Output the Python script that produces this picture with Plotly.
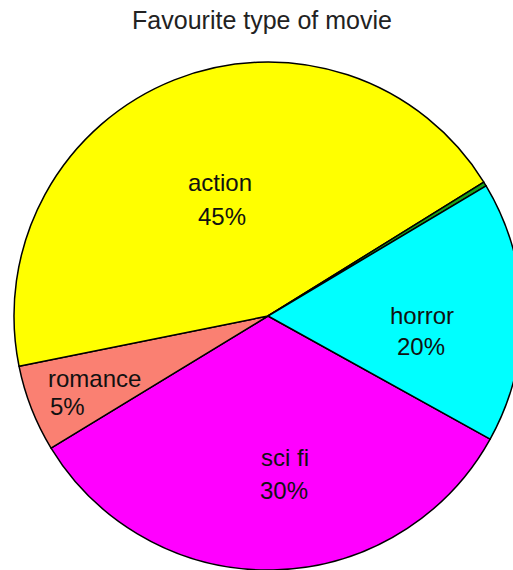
import plotly.graph_objects as go

# ---- data ----
categories = ["sci fi", "romance", "action", "other", "horror"]
counts = [6, 1, 8, 0.05, 3]
percent_labels = ["30%", "5%", "45%", "", "20%"]
slice_colors = ["#FF00FF", "#FA8072", "#FFFF00", "#1AA31A", "#00FFFF"]
title_text = "Favourite type of movie"

# ---- layout constants (pixels) ----
W, H = 522, 570
ML, MT = 14, 62
PW = W - ML          # plot area width
PH = H - MT          # plot area height

# label placement: (x_px name, baseline name, x_px pct, baseline pct, anchor)
label_pos = {
    "action": (220, 191, 222, 225, "center"),
    "horror": (422, 324, 421, 355, "center"),
    "sci fi": (285, 466, 284, 499, "center"),
    "romance": (46, 387, 48, 415, "left"),
}


def px_to_paper(x, y):
    return (x - ML) / PW, (H - y) / PH


fig = go.Figure(
    go.Pie(
        labels=categories,
        values=counts,
        sort=False,
        direction="clockwise",
        rotation=119,
        marker=dict(colors=slice_colors, line=dict(color="black", width=1.5)),
        textinfo="none",
        hoverinfo="label+value",
        showlegend=False,
        domain=dict(x=[0, 1], y=[0, 1]),
    )
)

annotations = []
FONT = "Arial, Liberation Sans, sans-serif"
for name, pct in zip(categories, percent_labels):
    if name not in label_pos:
        continue
    xn, yn, xp, yp, anch = label_pos[name]
    for txt, xx, yy in ((name, xn, yn), (pct, xp, yp)):
        ax, ay = px_to_paper(xx, yy - 8.3)
        annotations.append(
            dict(
                text=txt, x=ax, y=ay, xref="paper", yref="paper",
                xanchor=anch, yanchor="middle", showarrow=False,
                font=dict(family=FONT, size=24, color="#111111"),
            )
        )

fig.update_layout(
    width=W,
    height=H,
    margin=dict(l=ML, r=0, t=MT, b=0, pad=0),
    paper_bgcolor="white",
    plot_bgcolor="white",
    title=dict(
        text=title_text,
        x=262 / W, xref="container", xanchor="center",
        y=1 - 20 / H, yref="container", yanchor="middle",
        font=dict(family=FONT, size=25, color="#222222"),
    ),
    annotations=annotations,
)

fig.write_html(
    "out.html",
    config={"displayModeBar": False},
    post_script="document.documentElement.style.overflow='hidden';"
    "document.body.style.overflow='hidden';document.body.style.margin='0';",
)
